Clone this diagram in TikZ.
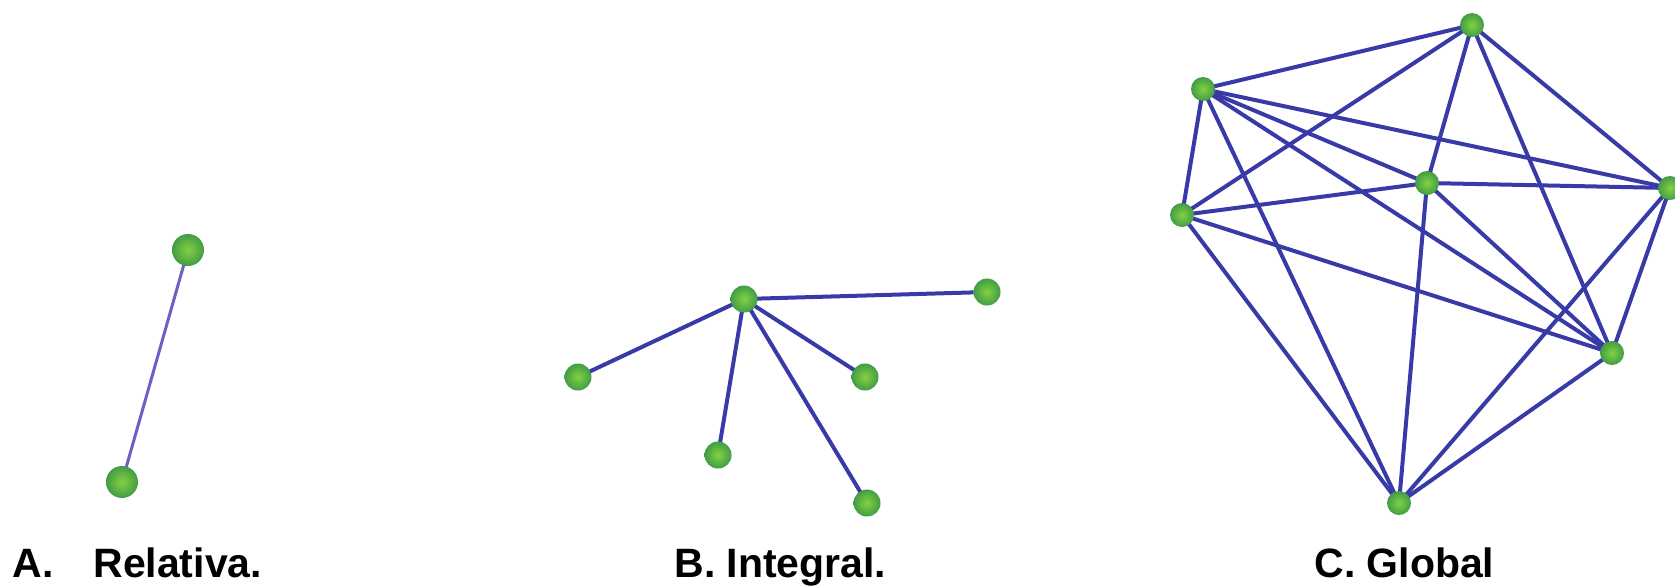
\documentclass[tikz,border=0pt]{standalone}
\usepackage{fontspec}
\setmainfont{Liberation Sans}
\usetikzlibrary{backgrounds}
\definecolor{edgeA}{RGB}{108,96,196}
\definecolor{edgeBC}{RGB}{56,58,168}
\definecolor{ballin}{RGB}{130,210,64}
\definecolor{ballout}{RGB}{66,156,70}
\tikzset{
  ball/.style={circle, inner sep=0pt, minimum size=#1, inner color=ballin, outer color=ballout},
  ballA/.style={ball=16pt},
  ballB/.style={ball=13.5pt},
  ballC/.style={ball=12pt},
  linkA/.style={draw=edgeA, line width=1.5pt},
  linkBC/.style={draw=edgeBC, line width=2pt},
  caption/.style={anchor=base west, inner sep=0pt, font=\fontsize{20.5pt}{24pt}\selectfont\bfseries}
}
\begin{document}
\begin{tikzpicture}[x=0.5pt,y=-0.5pt]
\useasboundingbox (0,0) rectangle (1675,585);
% Panel A
\node[ballA] (a1) at (188,250) {};
\node[ballA] (a2) at (122,482) {};
% Panel B
\node[ballB] (bh) at (744,299) {};
\node[ballB] (br) at (987,292) {};
\node[ballB] (bl) at (578,377) {};
\node[ballB] (bm) at (865,377) {};
\node[ballB] (bd) at (718,455) {};
\node[ballB] (bb) at (867,503) {};
% Panel C
\node[ballC] (ct) at (1472,25) {};
\node[ballC] (cu) at (1203,89) {};
\node[ballC] (cl) at (1182,215) {};
\node[ballC] (cm) at (1427,183) {};
\node[ballC] (cr) at (1670,188) {};
\node[ballC] (cq) at (1612,353) {};
\node[ballC] (cb) at (1399,503) {};
\begin{scope}[on background layer]
\draw[linkA] (a1.center) -- (a2.center);
\foreach \n in {br,bl,bm,bd,bb}
  \draw[linkBC] (bh.center) -- (\n.center);
\foreach \p/\q in {cu/ct, ct/cl, ct/cm, ct/cq, ct/cr,
                   cu/cl, cu/cm, cu/cr, cu/cq, cu/cb,
                   cl/cm, cl/cq, cl/cb,
                   cm/cr, cm/cb, cm/cq,
                   cr/cq, cr/cb, cq/cb}
  \draw[linkBC] (\p.center) -- (\q.center);
\end{scope}
% Captions
\node[caption] (capA1) at (12,577) {A.};
\node[caption] (capA2) at (93,577) {Relativa.};
\node[caption] (capB) at (674,577) {B. Integral.};
\node[caption] (capC) at (1314,577) {C. Global};
\end{tikzpicture}
\end{document}
